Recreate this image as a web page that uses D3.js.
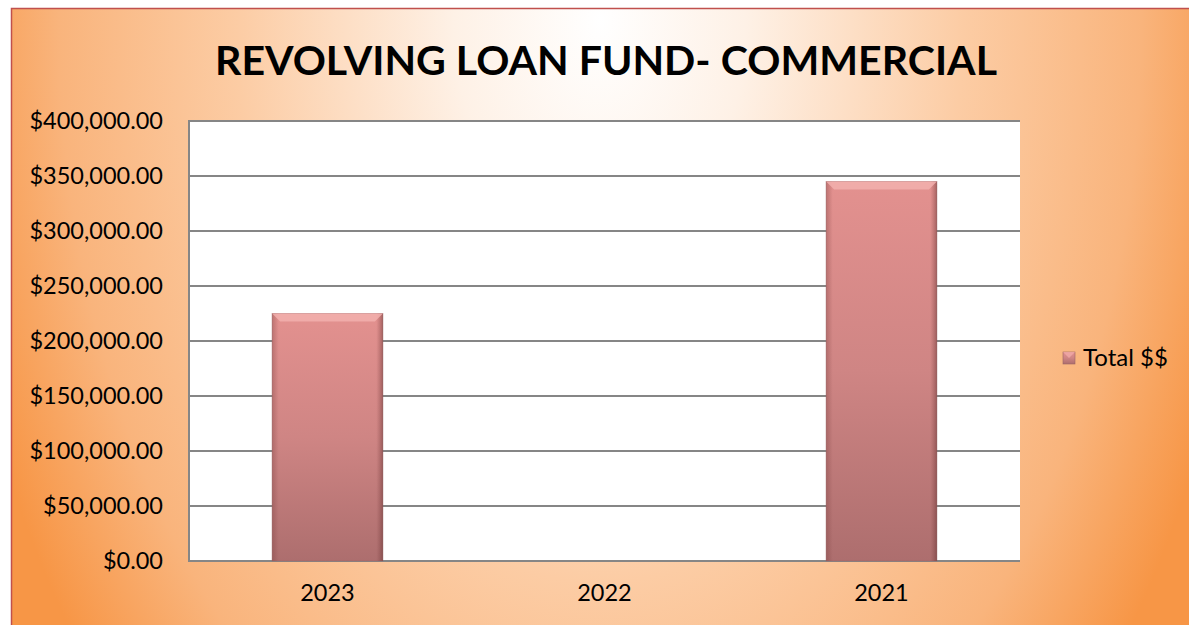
<!DOCTYPE html>
<html><head><meta charset="utf-8">
<script src="https://cdn.jsdelivr.net/npm/d3@7"></script>
<style>html,body{margin:0;padding:0;background:#fff;}svg{display:block;}</style>
</head><body>
<script>
const categories = ["2023", "2022", "2021"];
const values = [225000, 0, 345000];
const yTicks = [0, 50000, 100000, 150000, 200000, 250000, 300000, 350000, 400000];
const seriesName = "Total $$";
const title = "REVOLVING LOAN FUND- COMMERCIAL";

const W = 1189, H = 625;
const svg = d3.select("body").append("svg").attr("width", W).attr("height", H);
const defs = svg.append("defs");

const bg = defs.append("radialGradient").attr("id", "bg")
  .attr("gradientUnits", "userSpaceOnUse")
  .attr("cx", 600).attr("cy", 20).attr("r", 660)
  .attr("gradientTransform", "translate(600,20) scale(1,1.55) translate(-600,-20)");
[[0, "#ffffff"], [0.22, "#fef1e6"], [0.55, "#fccca4"], [0.82, "#f9b47c"], [1, "#f79646"]]
  .forEach(([o, c]) => bg.append("stop").attr("offset", o).attr("stop-color", c));

const barG = defs.append("linearGradient").attr("id", "barG").attr("x1", 0).attr("y1", 0).attr("x2", 0).attr("y2", 1);
[[0, "#e3918f"], [0.5, "#cf8584"], [1, "#ad6e6e"]]
  .forEach(([o, c]) => barG.append("stop").attr("offset", o).attr("stop-color", c));
const sideG = defs.append("linearGradient").attr("id", "sideG").attr("x1", 0).attr("y1", 0).attr("x2", 1).attr("y2", 0);
[[0, "rgba(120,60,60,0.35)"], [0.06, "rgba(120,60,60,0)"], [0.94, "rgba(120,60,60,0)"], [1, "rgba(90,40,40,0.45)"]]
  .forEach(([o, c]) => sideG.append("stop").attr("offset", o).attr("stop-color", c));

svg.append("rect").attr("x", 11.5).attr("y", 8.5).attr("width", W).attr("height", H)
  .attr("fill", "url(#bg)").attr("stroke", "#c0504d").attr("stroke-width", 1.5);

const m = {left: 189, top: 121, right: 1020, bottom: 561};
const x = d3.scaleBand().domain(categories).range([m.left, m.right]).paddingInner(0.6).paddingOuter(0.3);
const y = d3.scaleLinear().domain([0, 400000]).range([m.bottom, m.top]);

svg.append("rect").attr("x", m.left).attr("y", m.top).attr("width", m.right - m.left).attr("height", m.bottom - m.top).attr("fill", "#ffffff");

svg.append("g").selectAll("line").data(yTicks).join("line")
  .attr("x1", m.left).attr("x2", m.right).attr("y1", d => y(d)).attr("y2", d => y(d))
  .attr("stroke", "#868686").attr("stroke-width", 2);
svg.append("line").attr("x1", m.left).attr("x2", m.left).attr("y1", m.top - 1).attr("y2", m.bottom + 1)
  .attr("stroke", "#868686").attr("stroke-width", 2);

const font = "Lato, 'Open Sans', sans-serif";
const yAxis = svg.append("g").attr("transform", `translate(${m.left},0)`)
  .call(d3.axisLeft(y).tickValues(yTicks).tickSize(0).tickPadding(26).tickFormat(d => "$" + d3.format(",.2f")(d)));
yAxis.select(".domain").remove();
yAxis.selectAll("text").attr("font-family", font).attr("font-size", 23.5).attr("fill", "#000");

const xAxis = svg.append("g").attr("transform", `translate(0,${m.bottom})`)
  .call(d3.axisBottom(x).tickSize(0).tickPadding(23));
xAxis.select(".domain").remove();
xAxis.selectAll("text").attr("font-family", font).attr("font-size", 23.5).attr("fill", "#000");

const data = categories.map((c, i) => ({c, v: values[i]})).filter(d => d.v > 0);
const bars = svg.append("g").selectAll("g").data(data).join("g");
bars.append("rect").attr("x", d => x(d.c)).attr("y", d => y(d.v)).attr("width", x.bandwidth()).attr("height", d => y(0) - y(d.v))
  .attr("fill", "url(#barG)").attr("stroke", "#9a6464").attr("stroke-width", 0.8).attr("stroke-opacity", 0.6);
bars.append("rect").attr("x", d => x(d.c)).attr("y", d => y(d.v)).attr("width", x.bandwidth()).attr("height", d => y(0) - y(d.v))
  .attr("fill", "url(#sideG)");
bars.append("polygon").attr("points", d => {
    const x0 = x(d.c), x1 = x0 + x.bandwidth(), t = y(d.v), b = 8;
    return `${x0},${t} ${x1},${t} ${x1 - b},${t + b} ${x0 + b},${t + b}`;
  }).attr("fill", "#f2b0ae").attr("opacity", 0.85);

const leg = svg.append("g").attr("transform", "translate(1063,352)");
leg.append("rect").attr("width", 12).attr("height", 12).attr("fill", "url(#barG)").attr("stroke", "#9a6464").attr("stroke-width", 0.6);
leg.append("polygon").attr("points", "0,0 12,0 6,6").attr("fill", "#f0aaa8").attr("opacity", 0.8);
leg.append("text").attr("x", 20).attr("y", 14).text(seriesName)
  .attr("font-family", font).attr("font-size", 24).attr("fill", "#000");

svg.append("text").attr("x", 606).attr("y", 75).attr("text-anchor", "middle").text(title)
  .attr("font-family", font).attr("font-weight", "bold").attr("font-size", 41)
  .attr("textLength", 782).attr("lengthAdjust", "spacingAndGlyphs").attr("fill", "#000");
</script>
</body></html>
